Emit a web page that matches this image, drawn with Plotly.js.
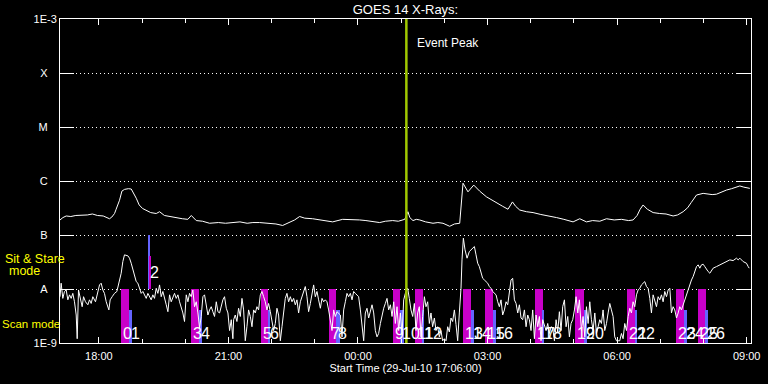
<!DOCTYPE html>
<html><head><meta charset="utf-8">
<script src="https://cdn.plot.ly/plotly-3.0.1.min.js"></script>
<style>html,body{margin:0;padding:0;background:#000;}#chart{width:768px;height:384px;}</style>
</head><body><div id="chart"></div>
<script>
// ---- data (time in minutes after 29-Jul-2010 17:06:00 UT, flux in W/m^2) ----
const startLabel = 'Start Time (29-Jul-10 17:06:00)';
const eventMinute = 481.2;           // Event Peak
const rangeMinutes = [0, 960];

// GOES 14 long channel (1-8 A)
const tLong = [0, 4, 8.6, 15, 22, 30, 38, 45, 52, 60,
 68.8, 72, 75.8, 78, 82.7, 86, 89.7, 95, 99, 105.9,
 110, 114.7, 120, 126, 133.7, 138.3, 145, 152.2, 160, 170,
 177.6, 182.4, 189.3, 198, 207.8, 220, 230, 239.8, 250, 260,
 268, 277.3, 290, 300, 309.3, 319, 326, 332.9, 340, 351,
 360, 370, 378.8, 392.7, 405, 416.3, 425, 435, 444.1, 452,
 462.2, 470, 478.9, 483.4, 486, 490.4, 495, 499.7, 508, 518.2,
 525, 532.1, 541.4, 548, 555.3, 559.9, 563, 566.8, 574.8, 583,
 592.4, 606.3, 615, 622.4, 628.6, 633, 638.7, 648, 657.2, 668,
 680.4, 690, 700, 712.8, 722.1, 731.4, 740, 750, 759.2, 770,
 780, 790, 796.2, 801.8, 806, 810.1, 816, 824, 833, 842,
 851.8, 858, 865.7, 872, 877, 884.3, 893.5, 900, 906, 912.1,
 920, 926, 933, 939.9, 944.5, 950, 958.4];
const fLong = [1.9e-7, 2.1e-7, 2.25e-7, 2.2e-7, 2.3e-7, 2.3e-7, 2.35e-7, 2.45e-7, 2.3e-7, 2.25e-7,
 2.0e-7, 2.15e-7, 2.5e-7, 3.0e-7, 4.4e-7, 6.5e-7, 7.0e-7, 7.2e-7, 7.1e-7, 4.8e-7,
 3.6e-7, 3.1e-7, 2.9e-7, 2.6e-7, 2.5e-7, 2.7e-7, 2.3e-7, 2.2e-7, 2.1e-7, 2.0e-7,
 1.95e-7, 2.3e-7, 1.85e-7, 1.8e-7, 1.65e-7, 1.7e-7, 1.65e-7, 1.7e-7, 1.75e-7, 1.65e-7,
 1.7e-7, 1.7e-7, 1.65e-7, 1.6e-7, 1.5e-7, 1.75e-7, 1.9e-7, 2.2e-7, 2.05e-7, 2.0e-7,
 1.9e-7, 1.8e-7, 1.75e-7, 1.95e-7, 1.95e-7, 1.9e-7, 1.85e-7, 1.8e-7, 1.7e-7, 1.8e-7,
 1.85e-7, 1.8e-7, 1.95e-7, 2.7e-7, 2.1e-7, 1.85e-7, 1.95e-7, 1.9e-7, 1.75e-7, 1.65e-7,
 1.7e-7, 1.65e-7, 1.45e-7, 1.6e-7, 1.65e-7, 9.1e-7, 7.5e-7, 6.3e-7, 8.4e-7, 6.5e-7,
 5.1e-7, 3.9e-7, 3.4e-7, 3.0e-7, 4.1e-7, 3.4e-7, 2.9e-7, 2.7e-7, 2.6e-7, 2.4e-7,
 2.25e-7, 2.1e-7, 1.95e-7, 1.75e-7, 2.0e-7, 1.75e-7, 1.85e-7, 1.8e-7, 2.0e-7, 1.9e-7,
 1.95e-7, 1.85e-7, 1.9e-7, 2.3e-7, 3.0e-7, 3.6e-7, 3.0e-7, 2.6e-7, 2.5e-7, 2.45e-7,
 2.25e-7, 2.35e-7, 2.7e-7, 3.2e-7, 4.0e-7, 5.5e-7, 5.9e-7, 5.8e-7, 5.6e-7, 5.7e-7,
 6.4e-7, 6.8e-7, 7.2e-7, 7.6e-7, 8.1e-7, 7.7e-7, 7.3e-7];

// GOES 14 short channel (0.5-4 A)
const tShort = [0, 1.6, 3.9, 6.2, 8.6, 10.9, 13.2, 15.5, 17.8, 20.1,
 22.5, 23.9, 25.7, 28.0, 30.8, 32.7, 35.4, 38.7, 41.0, 43.3,
 45.6, 49.3, 52.6, 54.9, 57.2, 59.5, 61.8, 64.2, 67.9, 69.7,
 72.5, 75.7, 79.0, 81.8, 85.0, 87.3, 89.6, 94.3, 96.6, 98.9,
 101.2, 103.5, 105.9, 108.2, 110.5, 112.8, 115.1, 117.4, 119.8, 122.1,
 124.4, 126.7, 129.0, 131.3, 133.7, 136.0, 138.3, 140.6, 142.9, 145.2,
 147.6, 149.9, 152.2, 154.5, 156.8, 159.1, 161.5, 163.8, 166.1, 168.4,
 170.7, 173.0, 175.4, 177.7, 180.0, 182.3, 184.6, 186.9, 189.3, 191.6,
 193.9, 196.2, 198.5, 200.8, 203.2, 205.5, 207.8, 210.1, 212.4, 214.7,
 217.1, 219.4, 221.7, 224.0, 226.3, 228.6, 231.0, 233.3, 235.6, 237.9,
 240.2, 241.2, 243.5, 245.8, 248.1, 250.5, 252.8, 255.1, 257.4, 259.7,
 262.0, 264.4, 266.7, 269.0, 271.3, 273.6, 275.9, 278.3, 280.6, 282.9,
 285.2, 287.5, 289.8, 292.2, 294.5, 296.8, 299.1, 301.4, 303.7, 306.1,
 308.4, 310.7, 313.0, 315.3, 317.6, 320.0, 322.3, 324.6, 326.9, 329.2,
 331.5, 333.9, 336.2, 338.5, 340.8, 343.1, 345.4, 347.8, 350.1, 352.4,
 354.7, 357.0, 359.3, 361.7, 364.0, 366.3, 368.6, 370.9, 373.2, 375.6,
 377.9, 380.2, 382.5, 384.8, 387.1, 389.5, 391.8, 394.1, 396.4, 398.7,
 401.0, 403.4, 405.7, 408.0, 410.3, 412.6, 414.9, 417.3, 419.6, 421.9,
 424.2, 426.5, 428.8, 431.2, 433.5, 435.8, 438.1, 440.4, 442.7, 445.1,
 447.4, 449.7, 452.0, 454.3, 456.6, 459.0, 461.3, 463.6, 465.9, 468.2,
 470.5, 472.9, 475.2, 477.5, 479.8,
 483.0, 485.3, 487.6, 490.0, 492.3, 494.6, 496.9, 499.2, 501.5, 503.8,
 506.2, 508.5, 510.8, 513.1, 515.4, 517.7, 520.1, 522.4, 524.7, 527.0,
 529.3, 531.6, 534.0, 536.3, 538.6, 540.9, 543.2, 545.5, 547.9, 550.2,
 552.5, 554.8, 557.1, 558.5, 560.4, 562.7, 565.5, 568.7, 573.3, 575.7,
 578.0, 580.3, 582.6, 584.9, 587.2, 589.6, 591.9, 594.2, 596.5, 598.8,
 601.1, 603.5, 605.8, 608.1, 610.4, 612.7, 615.0, 617.4, 619.7, 622.0,
 624.3, 626.6, 628.9, 631.3, 633.6, 635.9, 638.2, 640.5, 642.8, 645.2,
 647.5, 649.8, 652.1, 654.4, 656.7, 659.1, 661.4, 663.7, 666.0, 668.3,
 670.6, 673.0, 675.3, 677.6, 679.9, 682.2, 684.5, 686.9, 689.2, 691.5,
 693.8, 696.1, 698.4, 700.8, 703.1, 705.4, 707.7, 710.0, 712.3, 714.7,
 717.0, 719.3, 721.6,
 724.4, 726.7, 729.1, 731.4, 733.7, 736.0, 738.3, 740.6, 743.0, 745.3,
 747.6, 749.9, 752.2, 754.5, 756.8, 759.2, 761.5, 763.8, 766.1, 768.4,
 770.7, 773.1, 775.4, 777.7, 780.0, 782.3, 784.6, 787.0, 789.3, 791.6,
 793.9, 796.2, 798.5, 800.9, 803.2, 805.5, 807.8, 810.1, 812.4, 814.8,
 817.1, 819.4, 821.7, 824.0, 826.3, 828.7, 831.0, 833.3, 835.6, 837.9,
 840.2, 842.6, 844.9, 847.2, 849.5, 851.8, 854.1, 856.5, 858.8, 861.1,
 863.4, 865.7, 868.0, 870.4, 872.7, 875.0, 877.3, 879.6, 881.9, 884.3,
 886.6, 888.9, 891.2, 893.5, 895.8, 898.2, 900.5, 902.8, 905.1, 907.4,
 912.1, 916.7, 921.3, 925.9, 930.6, 935.2, 939.8, 942.2, 944.5, 949.1,
 953.7, 956.1, 957.5];
const fShort = [7.2e-9, 1.28e-8, 6.7e-9, 9.0e-9, 9.6e-9, 6.3e-9, 7.8e-9, 6.7e-9, 8.3e-9, 5.8e-9,
 3.3e-9, 1.2e-9, 9.6e-9, 7.2e-9, 4.7e-9, 7.2e-9, 5.8e-9, 5.1e-9, 6.3e-9, 5.4e-9,
 7.2e-9, 5.8e-9, 9.0e-9, 1.19e-8, 1.28e-8, 9.6e-9, 8.3e-9, 5.8e-9, 4.1e-9, 6.3e-9,
 7.2e-9, 8.3e-9, 9.0e-9, 1.28e-8, 1.96e-8, 3.22e-8, 4.29e-8, 4.11e-8, 3.72e-8, 3.0e-8,
 2.26e-8, 1.82e-8, 1.37e-8, 1.28e-8, 1.03e-8, 8.3e-9, 9.0e-9, 7.8e-9, 6.7e-9, 8.3e-9,
 7.2e-9, 6.3e-9, 7.8e-9, 6.7e-9, 1.03e-8, 8.3e-9, 1.19e-8, 7.2e-9, 9.0e-9, 6.3e-9,
 5.1e-9, 3.8e-9, 7.8e-9, 5.8e-9, 7.2e-9, 8.3e-9, 6.7e-9, 7.8e-9, 5.8e-9, 4.7e-9,
 3.6e-9, 2.5e-9, 7.8e-9, 5.8e-9, 8.3e-9, 7.2e-9, 9.6e-9, 4.7e-9, 5.8e-9, 3.6e-9,
 1.9e-9, 3.1e-9, 7.2e-9, 7.8e-9, 5.1e-9, 3.3e-9, 4.1e-9, 4.7e-9, 3.8e-9, 3.1e-9,
 5.8e-9, 3.8e-9, 3.6e-9, 5.1e-9, 6.3e-9, 7.2e-9, 4.4e-9, 3.6e-9, 1.7e-9, 2.7e-9,
 1.2e-9, 2.7e-9, 3.3e-9, 2.5e-9, 4.4e-9, 3.1e-9, 6.7e-9, 4.1e-9, 1.1e-9, 2.0e-9,
 4.1e-9, 3.1e-9, 2.0e-9, 4.1e-9, 3.6e-9, 4.7e-9, 4.1e-9, 7.8e-9, 9.0e-9, 7.2e-9,
 5.8e-9, 4.1e-9, 5.4e-9, 3.8e-9, 2.7e-9, 1.7e-9, 2.3e-9, 4.4e-9, 3.3e-9, 1.1e-9,
 2.0e-9, 4.1e-9, 6.7e-9, 8.3e-9, 5.8e-9, 7.2e-9, 5.8e-9, 6.7e-9, 5.1e-9, 6.3e-9,
 3.6e-9, 5.8e-9, 7.2e-9, 9.0e-9, 1.11e-8, 7.2e-9, 3.8e-9, 5.4e-9, 7.8e-9, 1.19e-8,
 7.2e-9, 9.0e-9, 6.3e-9, 4.4e-9, 6.7e-9, 5.8e-9, 6.3e-9, 5.8e-9, 4.1e-9, 2.7e-9,
 1.7e-9, 4.1e-9, 3.1e-9, 3.8e-9, 3.6e-9, 3.3e-9, 1.3e-9, 4.1e-9, 5.8e-9, 8.3e-9,
 7.2e-9, 8.3e-9, 6.3e-9, 9.0e-9, 8.3e-9, 7.8e-9, 7.2e-9, 4.1e-9, 2.3e-9, 1.1e-9,
 3.6e-9, 4.4e-9, 2.9e-9, 4.1e-9, 5.1e-9, 3.6e-9, 1.7e-9, 1.3e-9, 1.5e-9, 2.3e-9,
 3.3e-9, 4.4e-9, 5.4e-9, 6.7e-9, 4.1e-9, 5.1e-9, 3.1e-9, 5.8e-9, 2.3e-9, 4.7e-9,
 1.7e-9, 3.6e-9, 1.4e-9, 6.3e-9, 8.3e-9,
 1.03e-8, 6.7e-9, 4.1e-9, 3.1e-9, 5.4e-9, 1.7e-9, 3.6e-9, 4.7e-9, 1.3e-9, 3.1e-9,
 7.2e-9, 4.7e-9, 5.8e-9, 2.3e-9, 3.6e-9, 2.0e-9, 2.9e-9, 1.7e-9, 2.0e-9, 1.3e-9,
 1.7e-9, 1.1e-9, 1.2e-9, 1.1e-9, 2.0e-9, 1.6e-9, 2.9e-9, 2.5e-9, 4.1e-9, 2.2e-9,
 1.1e-9, 3.6e-9, 1.03e-8, 3.46e-8, 8.73e-8, 5.31e-8, 3.72e-8, 4.94e-8, 5.7e-8, 6.12e-8,
 4.29e-8, 3.0e-8, 2.6e-8, 2.1e-8, 1.58e-8, 1.47e-8, 1.37e-8, 1.28e-8, 1.11e-8, 1.03e-8,
 9.0e-9, 8.3e-9, 7.8e-9, 5.8e-9, 4.7e-9, 6.3e-9, 3.3e-9, 4.1e-9, 5.8e-9, 5.1e-9,
 9.0e-9, 1.47e-8, 1.58e-8, 6.3e-9, 5.4e-9, 3.6e-9, 5.1e-9, 2.9e-9, 2.7e-9, 4.1e-9,
 2.0e-9, 3.3e-9, 2.7e-9, 1.7e-9, 4.1e-9, 1.2e-9, 3.3e-9, 2.0e-9, 3.1e-9, 1.1e-9,
 2.7e-9, 2.2e-9, 1.7e-9, 2.3e-9, 1.5e-9, 2.0e-9, 1.9e-9, 1.1e-9, 2.7e-9, 1.6e-9,
 3.8e-9, 1.7e-9, 4.7e-9, 6.3e-9, 2.0e-9, 3.1e-9, 1.3e-9, 2.3e-9, 2.7e-9, 4.1e-9,
 7.2e-9, 3.6e-9, 6.3e-9,
 1.7e-9, 3.1e-9, 1.3e-9, 4.7e-9, 2.3e-9, 5.8e-9, 2.7e-9, 1.7e-9, 3.6e-9, 1.5e-9,
 2.0e-9, 2.7e-9, 2.3e-9, 4.1e-9, 1.7e-9, 2.3e-9, 3.6e-9, 5.4e-9, 4.1e-9, 3.1e-9,
 1.3e-9, 1.1e-9, 1.1e-9, 1.1e-9, 1.5e-9, 1.2e-9, 2.3e-9, 1.7e-9, 3.1e-9, 4.4e-9,
 3.6e-9, 5.8e-9, 4.7e-9, 7.8e-9, 9.6e-9, 1.03e-8, 1.19e-8, 1.28e-8, 1.37e-8, 1.11e-8,
 1.03e-8, 6.7e-9, 3.6e-9, 7.8e-9, 6.3e-9, 4.7e-9, 7.2e-9, 6.3e-9, 7.8e-9, 5.8e-9,
 9.0e-9, 7.2e-9, 9.6e-9, 1.03e-8, 3.6e-9, 4.7e-9, 4.1e-9, 2.9e-9, 3.6e-9, 4.7e-9,
 4.1e-9, 5.1e-9, 6.3e-9, 7.8e-9, 9.6e-9, 1.19e-8, 1.47e-8, 1.7e-8, 2.1e-8, 2.6e-8,
 2.8e-8, 2.43e-8, 2.8e-8, 2.88e-8, 2.6e-8, 2.26e-8, 2.1e-8, 1.96e-8, 2.26e-8, 2.43e-8,
 2.6e-8, 2.8e-8, 3.0e-8, 3.22e-8, 3.46e-8, 3.36e-8, 3.72e-8, 3.46e-8, 3.72e-8, 3.22e-8,
 3.0e-8, 2.6e-8, 2.43e-8];

// Scan mode observations (magenta) and their blue companions
const scanStart = [84.1, 181.4, 278.7, 373.2, 462.2, 492.8, 559.5, 590.1, 659.6, 716.1, 787.4, 855.5, 886.2];
const scanEnd   = [95.6, 192.5, 289.4, 383.9, 472.9, 503.9, 571.0, 601.2, 670.7, 727.7, 798.5, 866.7, 897.3];
const scanLabel = ['0', '3', '5', '7', '9', '11', '13', '15', '17', '19', '21', '23', '25'];
const blueStart = [95.2, 192.5, 288.3, 383.9, 472.9, 502.4, 571.0, 601.2, 669.3, 728.1, 798.2, 866.7, 895.9];
const blueEnd   = [99.4, 196.7, 292.1, 388.5, 477.5, 506.2, 574.8, 605.4, 673.0, 731.8, 802.3, 870.9, 900.1];
const blueLabel = ['1', '4', '6', '8', '10', '12', '14', '16', '18', '20', '22', '24', '26'];
const scanBase = 1e-9, scanTop = 1e-8, scanBlueTop = 4.1e-9;

// Sit & Stare observation
const ssBlueStart = [121.6], ssBlueEnd = [124.4];
const ssMagStart = [123.0], ssMagEnd = [125.8];
const ssLabel = ['2'];
const ssBase = 1e-8, ssBlueTop = 1e-7, ssMagTop = 4.1e-8;

// Y axis classes
const yTickVals = [1e-9, 1e-8, 1e-7, 1e-6, 1e-5, 1e-4, 1e-3];
const yTickText = ['1E-9', 'A', 'B', 'C', 'M', 'X', '1E-3'];

// ---- build ----
const START_MS = Date.UTC(2010, 6, 29, 17, 6, 0);
function toDate(m) { return new Date(START_MS + Math.round(m * 60000)).toISOString().replace('T', ' ').slice(0, 19); }

const FONT = 'Liberation Sans, Arial, sans-serif';
const MAG = '#c800c8', BLUE = '#6464ff', EVENT = '#a0c800';

function bars(starts, ends, base, top, color) {
  return {
    type: 'bar', x: starts.map((s, i) => toDate((s + ends[i]) / 2)),
    width: starts.map((s, i) => (ends[i] - s) * 60000),
    base: starts.map(() => base), y: starts.map(() => top - base),
    marker: { color: color, line: { width: 0 } }, hoverinfo: 'skip'
  };
}

const data = [
  bars(ssBlueStart, ssBlueEnd, ssBase, ssBlueTop, BLUE),
  bars(ssMagStart, ssMagEnd, ssBase, ssMagTop, MAG),
  bars(scanStart, scanEnd, scanBase, scanTop, MAG),
  bars(blueStart, blueEnd, scanBase, scanBlueTop, BLUE),
  { type: 'scatter', mode: 'lines', x: tLong.map(toDate), y: fLong, line: { color: '#fff', width: 1 }, hoverinfo: 'skip' },
  { type: 'scatter', mode: 'lines', x: tShort.map(toDate), y: fShort, line: { color: '#fff', width: 1 }, hoverinfo: 'skip' },
  { type: 'scatter', mode: 'lines', x: [toDate(eventMinute), toDate(eventMinute)], y: [yTickVals[0], yTickVals[yTickVals.length - 1]],
    line: { color: EVENT, width: 2.5 }, hoverinfo: 'skip' }
];

const NB = '\u00a0';
const tickText = yTickText.map(t => t.length === 1 ? t + NB + NB + NB : t);

const annotations = [];
const labelY = 10 / 324;
scanStart.forEach((s, i) => annotations.push({ x: toDate(s), y: labelY, xref: 'x', yref: 'paper', text: scanLabel[i], showarrow: false, xanchor: 'left', yanchor: 'middle', font: { family: FONT, size: 16, color: '#fff' } }));
blueStart.forEach((s, i) => annotations.push({ x: toDate(s), y: labelY, xref: 'x', yref: 'paper', text: blueLabel[i], showarrow: false, xanchor: 'left', yanchor: 'middle', font: { family: FONT, size: 16, color: '#fff' } }));
ssBlueStart.forEach((s, i) => annotations.push({ x: toDate(s), y: 70.5 / 324, xref: 'x', yref: 'paper', text: ssLabel[i], showarrow: false, xanchor: 'left', yanchor: 'middle', font: { family: FONT, size: 16, color: '#fff' } }));
annotations.push({ x: toDate(eventMinute), y: 300.3 / 324, xref: 'x', yref: 'paper', xshift: 9, text: 'Event Peak', showarrow: false, xanchor: 'left', yanchor: 'middle', font: { family: FONT, size: 12, color: '#fff' } });
annotations.push({ x: -25.5 / 691, y: 84.5 / 324, xref: 'paper', yref: 'paper', text: 'Sit & Stare', showarrow: false, xanchor: 'center', yanchor: 'middle', font: { family: FONT, size: 12.5, color: '#ffff00' } });
annotations.push({ x: -35.7 / 691, y: 72 / 324, xref: 'paper', yref: 'paper', text: 'mode', showarrow: false, xanchor: 'center', yanchor: 'middle', font: { family: FONT, size: 12.5, color: '#ffff00' } });
annotations.push({ x: -29.5 / 691, y: 18.7 / 324, xref: 'paper', yref: 'paper', text: 'Scan mode', showarrow: false, xanchor: 'center', yanchor: 'middle', font: { family: FONT, size: 11.5, color: '#ffff00' } });

const layout = {
  width: 768, height: 384, paper_bgcolor: '#000', plot_bgcolor: '#000',
  margin: { l: 60, r: 17, t: 19, b: 41 }, showlegend: false, barmode: 'overlay', bargap: 0,
  font: { family: FONT, color: '#fff' },
  title: { text: 'GOES 14 X-Rays:', font: { family: FONT, size: 13, color: '#fff' }, x: 0.5, xref: 'paper', xanchor: 'center', y: 1 - 9.5 / 384, yref: 'container', yanchor: 'middle' },
  xaxis: {
    type: 'date', range: rangeMinutes.map(toDate), tick0: '2010-07-29 18:00:00', dtick: 3 * 3600000, tickformat: '%H:%M',
    ticks: 'inside', ticklen: 6, tickwidth: 1, tickcolor: '#fff', showline: true, linecolor: '#fff', linewidth: 1, mirror: 'ticks',
    showgrid: false, zeroline: false, tickfont: { family: FONT, size: 11, color: '#fff' }, ticklabelstandoff: 3,
    minor: { dtick: 3600000, tick0: '2010-07-29 18:00:00', ticks: 'inside', ticklen: 4, tickcolor: '#fff', tickwidth: 1, showgrid: false },
    title: { text: startLabel, font: { family: FONT, size: 11, color: '#fff' }, standoff: 1 }
  },
  yaxis: {
    type: 'log', range: [-9, -3], tickvals: yTickVals, ticktext: tickText,
    ticks: 'inside', ticklen: 14, tickwidth: 1, tickcolor: '#fff', showline: true, linecolor: '#fff', linewidth: 1, mirror: 'ticks',
    showgrid: true, gridcolor: '#fff', gridwidth: 1, griddash: '1px,3px', zeroline: false,
    tickfont: { family: FONT, size: 11, color: '#fff' }
  },
  annotations: annotations
};

Plotly.newPlot('chart', data, layout, { staticPlot: true, displayModeBar: false });
</script>
</body></html>
